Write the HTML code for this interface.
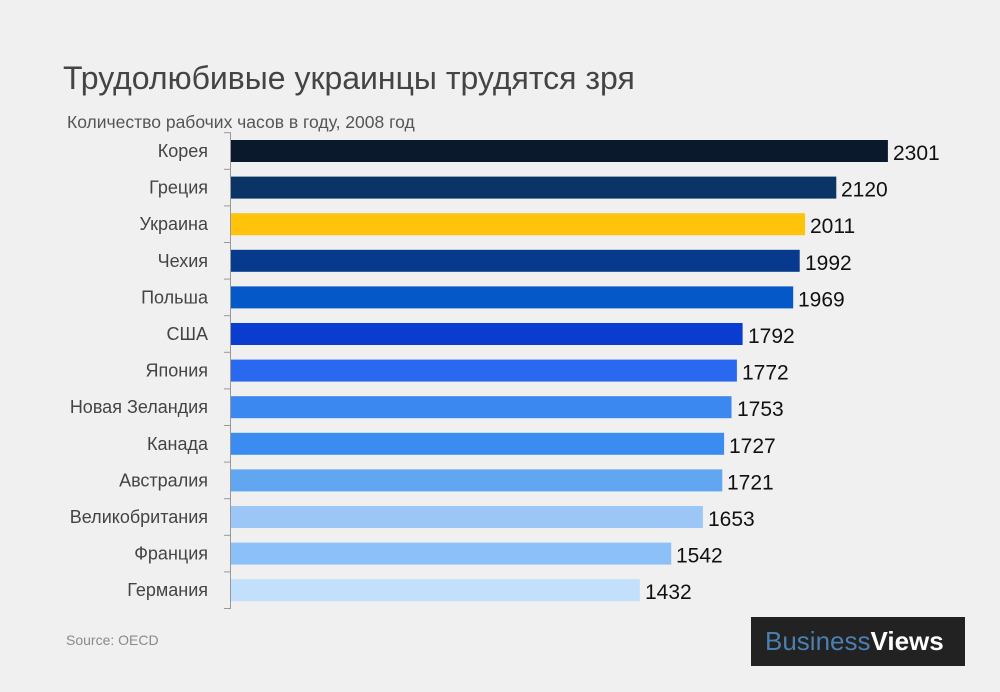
<!DOCTYPE html><html><head><meta charset="utf-8"><style>
body{margin:0;width:1000px;height:692px;background:#f0f0f0;font-family:"Liberation Sans","DejaVu Sans",sans-serif;position:relative;overflow:hidden}
.t{position:absolute;white-space:nowrap}
</style></head><body>
<div class="t" style="left:63px;top:60px;font-size:32px;color:#444">Трудолюбивые украинцы трудятся зря</div>
<div class="t" style="left:67px;top:112px;font-size:17.5px;color:#555">Количество рабочих часов в году, 2008 год</div>
<svg width="1000" height="692" style="position:absolute;left:0;top:0" font-family="Liberation Sans, DejaVu Sans, sans-serif">
<g fill="#444" font-size="18" text-anchor="end">
<text x="208" y="157">Корея</text>
<text x="208" y="193.6">Греция</text>
<text x="208" y="230.2">Украина</text>
<text x="208" y="266.8">Чехия</text>
<text x="208" y="303.4">Польша</text>
<text x="208" y="340">США</text>
<text x="208" y="376.6">Япония</text>
<text x="208" y="413.2">Новая Зеландия</text>
<text x="208" y="449.8">Канада</text>
<text x="208" y="486.4">Австралия</text>
<text x="208" y="523">Великобритания</text>
<text x="208" y="559.6">Франция</text>
<text x="208" y="596.2">Германия</text>
</g>
<rect x="231" y="140" width="656.9" height="22" fill="#0b192c"/>
<rect x="231" y="176.6" width="605.3" height="22" fill="#0b3466"/>
<rect x="231" y="213.2" width="574.1" height="22" fill="#fec30a"/>
<rect x="231" y="249.8" width="568.7" height="22" fill="#073a8c"/>
<rect x="231" y="286.4" width="562.2" height="22" fill="#0558c8"/>
<rect x="231" y="323" width="511.6" height="22" fill="#0a3ccf"/>
<rect x="231" y="359.6" width="505.9" height="22" fill="#2b68f0"/>
<rect x="231" y="396.2" width="500.5" height="22" fill="#3a88f0"/>
<rect x="231" y="432.8" width="493.1" height="22" fill="#3b8cf0"/>
<rect x="231" y="469.4" width="491.3" height="22" fill="#60a6f0"/>
<rect x="231" y="506" width="471.9" height="22" fill="#9cc6f6"/>
<rect x="231" y="542.6" width="440.2" height="22" fill="#8cc0f8"/>
<rect x="231" y="579.2" width="408.8" height="22" fill="#c2dffb"/>
<g fill="#111" font-size="21">
<text x="893" y="160">2301</text>
<text x="841" y="196.6">2120</text>
<text x="810" y="233.2">2011</text>
<text x="805" y="269.8">1992</text>
<text x="798" y="306.4">1969</text>
<text x="748" y="343">1792</text>
<text x="742" y="379.6">1772</text>
<text x="737" y="416.2">1753</text>
<text x="729" y="452.8">1727</text>
<text x="727" y="489.4">1721</text>
<text x="708" y="526">1653</text>
<text x="676" y="562.6">1542</text>
<text x="645" y="599.2">1432</text>
</g>
<g stroke="#999">
<line x1="230.5" y1="133" x2="230.5" y2="609"/>
<line x1="224" y1="132.7" x2="231" y2="132.7"/>
<line x1="224" y1="169.3" x2="231" y2="169.3"/>
<line x1="224" y1="205.9" x2="231" y2="205.9"/>
<line x1="224" y1="242.5" x2="231" y2="242.5"/>
<line x1="224" y1="279.1" x2="231" y2="279.1"/>
<line x1="224" y1="315.7" x2="231" y2="315.7"/>
<line x1="224" y1="352.3" x2="231" y2="352.3"/>
<line x1="224" y1="388.9" x2="231" y2="388.9"/>
<line x1="224" y1="425.5" x2="231" y2="425.5"/>
<line x1="224" y1="462.1" x2="231" y2="462.1"/>
<line x1="224" y1="498.7" x2="231" y2="498.7"/>
<line x1="224" y1="535.3" x2="231" y2="535.3"/>
<line x1="224" y1="571.9" x2="231" y2="571.9"/>
<line x1="224" y1="608.5" x2="231" y2="608.5"/>
</g>
</svg>
<div class="t" style="left:66px;top:632px;font-size:14px;color:#8a8a8a">Source: OECD</div>
<div style="position:absolute;left:751px;top:617px;width:214px;height:49px;background:#222"></div>
<div class="t" style="left:765px;top:626px;font-size:26px;color:#4a7fb0">Business<b style="color:#fff">Views</b></div>
</body></html>
